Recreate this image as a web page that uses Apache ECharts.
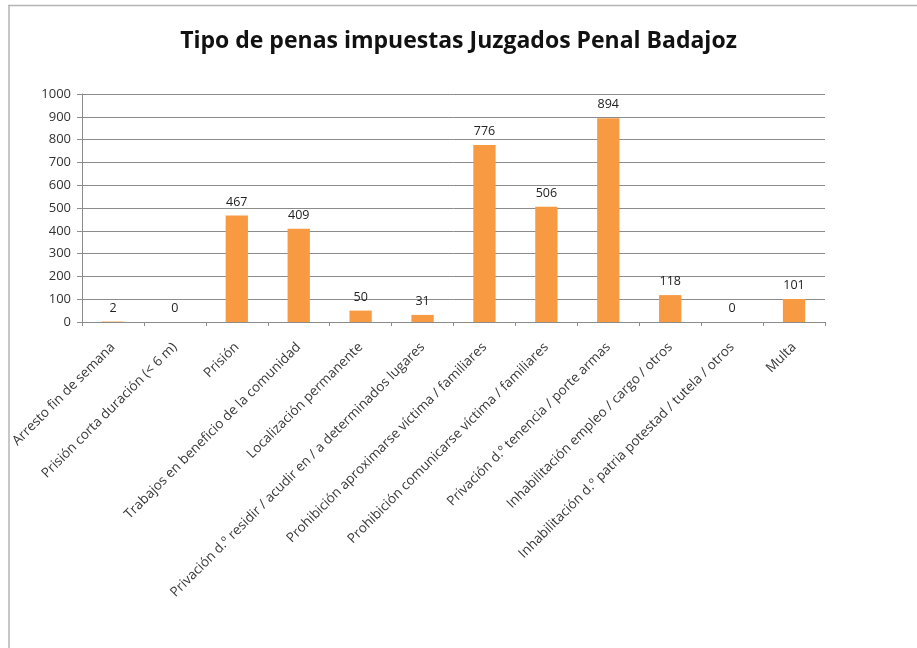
<!DOCTYPE html>
<html><head><meta charset="utf-8">
<script src="https://cdn.jsdelivr.net/npm/echarts@6/dist/echarts.min.js"></script>
<style>html,body{margin:0;padding:0;background:#fff}#c{width:917px;height:648px}</style>
</head><body><div id="c"></div>
<script>
const categories = ["Arresto fin de semana","Prisión corta duración (< 6 m)","Prisión","Trabajos en beneficio de la comunidad","Localización permanente","Privación d.º residir / acudir en / a determinados lugares","Prohibición aproximarse víctima / familiares","Prohibición comunicarse víctima / familiares","Privación d.º tenencia / porte armas","Inhabilitación empleo / cargo / otros","Inhabilitación d.º patria potestad / tutela / otros","Multa"];
const values = [2,0,467,409,50,31,776,506,894,118,0,101];
const yTicks = [0,100,200,300,400,500,600,700,800,900,1000];

const chart = echarts.init(document.getElementById('c'));
chart.setOption({
  backgroundColor:'#fff',
  animation:false,
  title:{text:'Tipo de penas impuestas Juzgados Penal Badajoz',left:'center',top:25,
    textStyle:{fontFamily:'Open Sans',fontSize:23,fontWeight:'bold',color:'#111'}},
  graphic:[
    {type:'line',shape:{x1:8,y1:5.5,x2:917,y2:5.5},style:{stroke:'#b4b4b4',lineWidth:1.5},silent:true},
    {type:'line',shape:{x1:9,y1:5,x2:9,y2:648},style:{stroke:'#b4b4b4',lineWidth:1.5},silent:true}
  ],
  grid:{left:82,right:92,top:94,bottom:326,containLabel:false},
  xAxis:{type:'category',data:categories,
    axisLine:{lineStyle:{color:'#8c8c8c'}},
    axisTick:{show:true,alignWithLabel:false,lineStyle:{color:'#8c8c8c'},length:4},
    axisLabel:{rotate:45,interval:0,fontFamily:'Open Sans',fontSize:13.5,color:'#3a3a3a',margin:23}},
  yAxis:{type:'value',min:yTicks[0],max:yTicks[yTicks.length-1],interval:100,
    axisLine:{show:true,lineStyle:{color:'#8c8c8c'}},
    axisTick:{show:true,inside:false,length:5,lineStyle:{color:'#8c8c8c'}},
    axisLabel:{fontFamily:'Open Sans',fontSize:13,color:'#333',margin:11,formatter:v=>String(v)},
    splitLine:{lineStyle:{color:'#8c8c8c'}}},
  series:[{type:'bar',data:values,barWidth:'36%',
    itemStyle:{color:'#F79A42'},
    label:{show:true,position:'top',distance:7,fontFamily:'Open Sans',fontSize:12.5,color:'#222'}}]
});
</script></body></html>
